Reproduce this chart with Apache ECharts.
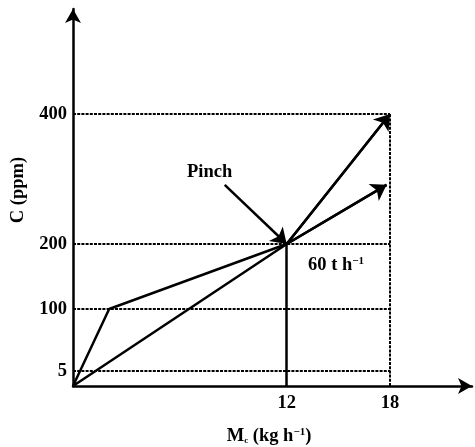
<!DOCTYPE html>
<html><head><meta charset="utf-8">
<script src="https://cdn.jsdelivr.net/npm/echarts@6/dist/echarts.min.js"></script>
<style>html,body{margin:0;padding:0;background:#fff}#c{width:475px;height:447px}</style>
</head><body><div id="c"></div>
<script>
// ---- data ----
const yTickValues = [5, 100, 200, 400];
const xTickValues = [12, 18];
const originX = -0.41, originY = -18.5;        // where the drawn lines start (axes corner)
const kinkX = [originX, 1.69, 12, 17.8];         // composite line through (~1.7,100) and pinch
const kinkY = [originY, 100, 200, 291];
const directX = [originX, 12, 18];               // straight line through pinch to (18,400)
const directY = [originY, 200, 400];
const pinchPoint = [12, 200];
const pinchArrowFrom = [8.4, 291];

const FONT = 'Liberation Serif';
const FS = 18.5;
const zip = (xs, ys) => xs.map((x, i) => [x, ys[i]]);
const kinkPts = zip(kinkX, kinkY);
const directPts = zip(directX, directY);
const lastSeg = pts => ({ coords: [pts[pts.length - 2], pts[pts.length - 1]] });

const xEnd = xTickValues[xTickValues.length - 1];
const yTop = yTickValues[yTickValues.length - 1];
const dottedH = yTickValues.map(v => ({ coords: [[originX, v], [xEnd, v]] }));
const dottedV = [{ coords: [[xEnd, originY], [xEnd, yTop]] }];

const chart = echarts.init(document.getElementById('c'), null, { renderer: 'canvas' });
const axisLabelStyle = { fontFamily: FONT, fontWeight: 'bold', fontSize: FS, color: '#000' };
chart.setOption({
  animation: false,
  backgroundColor: '#fff',
  grid: { left: 73, right: 3, top: 9, bottom: 61, containLabel: false, outerBoundsMode: 'none' },
  xAxis: {
    type: 'value', min: originX, max: 22.76,
    axisLine: { show: true, onZero: false, symbol: ['none', 'arrow'], symbolSize: [12, 14], lineStyle: { color: '#000', width: 2.5 } },
    axisTick: { show: false }, splitLine: { show: false },
    axisLabel: Object.assign({ customValues: xTickValues, margin: 8 }, axisLabelStyle)
  },
  yAxis: {
    type: 'value', min: originY, max: 561.6,
    axisLine: { show: true, onZero: false, symbol: ['none', 'arrow'], symbolSize: [12, 14], lineStyle: { color: '#000', width: 2.5 } },
    axisTick: { show: false }, splitLine: { show: false },
    axisLabel: Object.assign({ customValues: yTickValues, margin: 6 }, axisLabelStyle)
  },
  series: [
    { type: 'lines', coordinateSystem: 'cartesian2d', z: 1, silent: true,
      lineStyle: { color: '#000', width: 2, type: [3, 1.2], opacity: 1 },
      data: dottedH.concat(dottedV) },
    { type: 'lines', coordinateSystem: 'cartesian2d', z: 2, silent: true,
      lineStyle: { color: '#000', width: 2.5, opacity: 1 },
      data: [{ coords: [[pinchPoint[0], originY], pinchPoint] }] },
    { type: 'line', data: kinkPts, symbol: 'none', z: 3, lineStyle: { color: '#000', width: 2.5 } },
    { type: 'line', data: directPts, symbol: 'none', z: 3, lineStyle: { color: '#000', width: 2.5 } },
    { type: 'lines', coordinateSystem: 'cartesian2d', z: 4, silent: true,
      symbol: ['none', 'arrow'], symbolSize: [13, 15],
      lineStyle: { color: '#000', width: 2.5, opacity: 1 },
      data: [lastSeg(kinkPts), lastSeg(directPts), { coords: [pinchArrowFrom, pinchPoint] }] }
  ],
  graphic: [
    { type: 'text', x: 18, y: 190, rotation: Math.PI / 2,
      style: { text: 'C (ppm)', font: 'bold ' + FS + 'px ' + FONT, fill: '#000', align: 'center', verticalAlign: 'middle' } },
    { type: 'text', x: 269, y: 436,
      style: { text: '{b|M}{s|c}{b| (kg h}{p|−1}{b|)}', align: 'center', verticalAlign: 'middle', fill: '#000',
        rich: { b: { font: 'bold ' + FS + 'px ' + FONT, fill: '#000', verticalAlign: 'middle' },
                s: { font: 'bold 9px ' + FONT, fill: '#000', verticalAlign: 'bottom' },
                p: { font: 'bold 11px ' + FONT, fill: '#000', verticalAlign: 'top' } } } },
    { type: 'text', x: 187, y: 172,
      style: { text: 'Pinch', font: 'bold ' + FS + 'px ' + FONT, fill: '#000', align: 'left', verticalAlign: 'middle' } },
    { type: 'text', x: 308, y: 265,
      style: { text: '{b|60 t h}{p|−1}', align: 'left', verticalAlign: 'middle', fill: '#000',
        rich: { b: { font: 'bold ' + FS + 'px ' + FONT, fill: '#000', verticalAlign: 'middle' },
                p: { font: 'bold 11px ' + FONT, fill: '#000', verticalAlign: 'top' } } } }
  ]
});
</script></body></html>
